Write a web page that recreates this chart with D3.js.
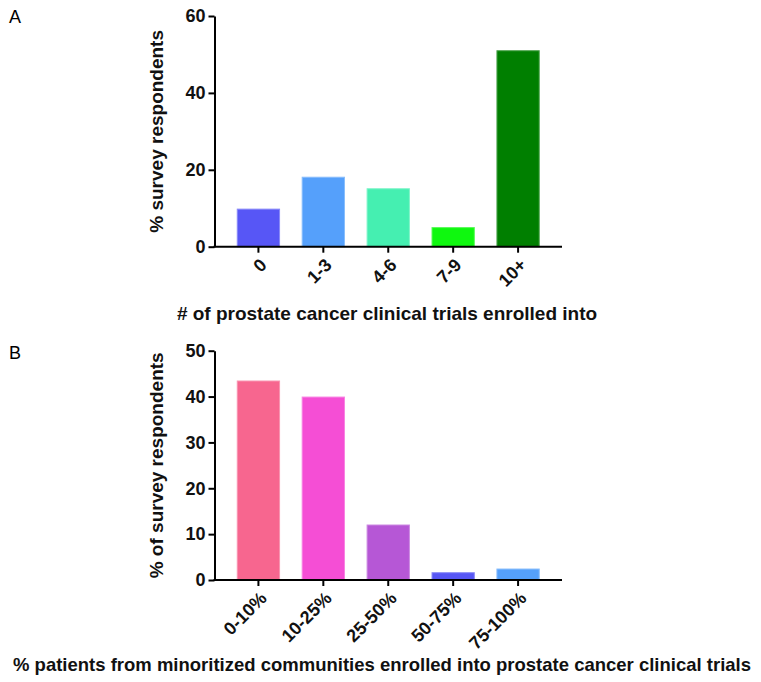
<!DOCTYPE html>
<html>
<head>
<meta charset="utf-8">
<script src="https://cdn.jsdelivr.net/npm/d3@7"></script>
<style>
  html, body { margin: 0; padding: 0; background: #fff; }
  svg { display: block; }
  text { font-family: "Liberation Sans", Arial, Helvetica, sans-serif; }
</style>
</head>
<body>
<svg id="chart" width="761" height="682"></svg>
<script>
// Panel A: number of prostate cancer trials enrolled into
const trialCategories = ["0", "1-3", "4-6", "7-9", "10+"];
const trialValues = [9.9, 18.2, 15.2, 5.1, 51.1];
const trialColors = ["#5756f6", "#55a0fb", "#45efb1", "#0ff80f", "#007f00"];
const trialTicks = [0, 20, 40, 60];

// Panel B: share of patients from minoritized communities
const minorityCategories = ["0-10%", "10-25%", "25-50%", "50-75%", "75-100%"];
const minorityValues = [43.5, 40.0, 12.1, 1.7, 2.5];
const minorityColors = ["#f7668f", "#f54ed5", "#b657d6", "#5756f4", "#55a0fb"];
const minorityTicks = [0, 10, 20, 30, 40, 50];

const svg = d3.select("#chart");

function panel(cfg) {
  const g = svg.append("g");
  const x = d3.scaleBand()
    .domain(cfg.categories)
    .range([cfg.left, cfg.right])
    .paddingInner(0.333)
    .paddingOuter(0.343);
  const y = d3.scaleLinear()
    .domain([0, cfg.max])
    .range([cfg.bottom, cfg.top]);

  // bars
  g.selectAll("rect.bar")
    .data(cfg.values)
    .join("rect")
    .attr("class", "bar")
    .attr("x", (d, i) => x(cfg.categories[i]) + 0.5)
    .attr("y", d => y(d) + 0.5)
    .attr("width", x.bandwidth() - 1)
    .attr("height", d => cfg.bottom - y(d) - 0.5)
    .attr("fill", (d, i) => cfg.colors[i])
    .attr("stroke", (d, i) => d3.interpolateRgb(cfg.colors[i], "#ffffff")(0.3))
    .attr("stroke-width", 1);

  // y axis
  const yAxis = g.append("g")
    .attr("transform", `translate(${cfg.left},0)`)
    .call(d3.axisLeft(y).tickValues(cfg.ticks).tickSize(6).tickPadding(3).tickSizeOuter(0));
  yAxis.select(".domain").attr("stroke", "#000").attr("stroke-width", 2);
  yAxis.selectAll(".tick line").attr("stroke", "#000").attr("stroke-width", 2);
  yAxis.selectAll(".tick text")
    .attr("fill", "#111")
    .style("font-size", "18px")
    .style("font-weight", "bold");

  // x axis
  const xAxis = g.append("g")
    .attr("transform", `translate(0,${cfg.bottom})`)
    .call(d3.axisBottom(x).tickSize(6).tickSizeOuter(0).tickFormat(""));
  xAxis.select(".domain")
    .attr("d", `M${cfg.left - 1},0H${cfg.right}`)
    .attr("stroke", "#000").attr("stroke-width", 2);
  xAxis.selectAll(".tick line").attr("stroke", "#000").attr("stroke-width", 2);

  // rotated category labels
  g.selectAll("text.cat")
    .data(cfg.categories)
    .join("text")
    .attr("class", "cat")
    .attr("transform", d => `translate(${x(d) + x.bandwidth() / 2 + 5},${cfg.bottom + 15}) rotate(-45)`)
    .attr("text-anchor", "end")
    .attr("dy", "0.35em")
    .attr("fill", "#111")
    .style("font-size", "18px")
    .style("font-weight", "bold")
    .text(d => d);

  // y axis title
  g.append("text")
    .attr("transform", `translate(${cfg.yTitleX},${(cfg.top + cfg.bottom) / 2}) rotate(-90)`)
    .attr("text-anchor", "middle")
    .attr("fill", "#111")
    .style("font-size", "19px")
    .style("font-weight", "bold")
    .text(cfg.yTitle);

  // x axis title (optionally squeezed horizontally to a given width)
  const xt = g.append("text")
    .attr("text-anchor", "middle")
    .attr("fill", "#111")
    .style("font-size", "19px")
    .style("font-weight", "bold")
    .text(cfg.xTitle);
  let sx = 1;
  if (cfg.xTitleWidth) {
    const natural = xt.node().getComputedTextLength();
    sx = Math.min(1, cfg.xTitleWidth / natural);
  }
  xt.attr("transform", `translate(${cfg.xTitleX},${cfg.xTitleY}) scale(${sx},1)`);

  // panel letter
  g.append("text")
    .attr("x", 9)
    .attr("y", cfg.letterY)
    .attr("fill", "#000")
    .style("font-size", "18px")
    .text(cfg.letter);
}

panel({
  categories: trialCategories, values: trialValues, colors: trialColors, ticks: trialTicks,
  max: 60, left: 214.5, right: 562, top: 16, bottom: 246.7,
  yTitle: "% survey respondents", yTitleX: 163,
  xTitle: "# of prostate cancer clinical trials enrolled into", xTitleX: 387, xTitleY: 320,
  letter: "A", letterY: 23
});

panel({
  categories: minorityCategories, values: minorityValues, colors: minorityColors, ticks: minorityTicks,
  max: 50, left: 214.5, right: 562, top: 350.7, bottom: 580,
  yTitle: "% of survey respondents", yTitleX: 163,
  xTitle: "% patients from minoritized communities enrolled into prostate cancer clinical trials",
  xTitleX: 382, xTitleY: 671, xTitleWidth: 738,
  letter: "B", letterY: 359
});
</script>
</body>
</html>
